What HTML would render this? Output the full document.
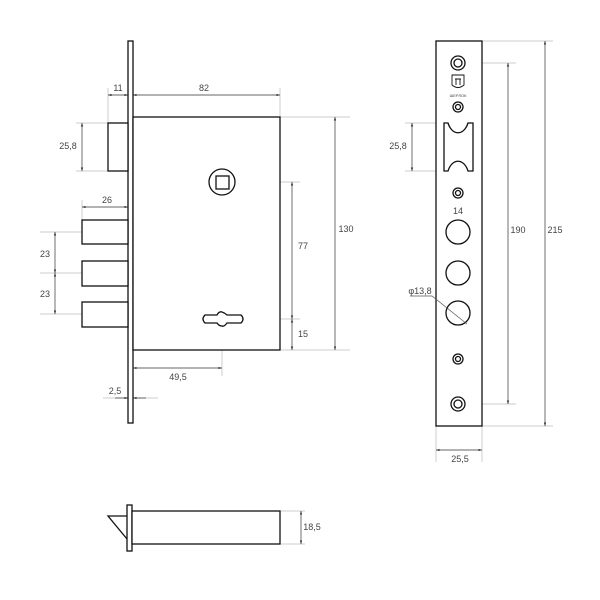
<!DOCTYPE html>
<html><head><style>body{margin:0;background:#fff}svg{display:block}text{font-family:"Liberation Sans",sans-serif;font-size:9px;fill:#444}</style></head>
<body>
<svg width="600" height="600" viewBox="0 0 600 600" xmlns="http://www.w3.org/2000/svg">
<defs><marker id="a" viewBox="0 0 6 6" refX="6" refY="3" markerWidth="5" markerHeight="5" orient="auto-start-reverse"><path d="M0,1 L6,3 L0,5z" fill="#333"/></marker></defs>
<g fill="none" stroke="#bbb" stroke-width="0.7">
<line x1="108" y1="88" x2="108" y2="123"/><line x1="133" y1="88" x2="133" y2="117"/><line x1="280" y1="88" x2="280" y2="117"/>
<line x1="76" y1="123" x2="108" y2="123"/><line x1="76" y1="171" x2="108" y2="171"/>
<line x1="82" y1="200" x2="82" y2="220"/>
<line x1="40" y1="232" x2="120" y2="232"/><line x1="40" y1="273" x2="120" y2="273"/><line x1="40" y1="314" x2="120" y2="314"/>
<line x1="280" y1="117" x2="350" y2="117"/><line x1="280" y1="350" x2="350" y2="350"/>
<line x1="190" y1="182" x2="300" y2="182"/><line x1="190" y1="319" x2="300" y2="319"/>
<line x1="222" y1="307" x2="222" y2="376"/>
<line x1="103" y1="398" x2="158" y2="398"/>
<line x1="482" y1="41" x2="553" y2="41"/><line x1="482" y1="426" x2="553" y2="426"/>
<line x1="450" y1="63" x2="516" y2="63"/><line x1="450" y1="404" x2="516" y2="404"/>
<line x1="405" y1="123" x2="476" y2="123"/><line x1="405" y1="171" x2="476" y2="171"/>
<line x1="444" y1="171" x2="444" y2="210"/><line x1="473" y1="171" x2="473" y2="210"/>
<line x1="436" y1="426" x2="436" y2="462"/><line x1="482" y1="426" x2="482" y2="462"/>
<line x1="280" y1="511" x2="305" y2="511"/><line x1="280" y1="544" x2="305" y2="544"/>
</g>
<g fill="none" stroke="#333" stroke-width="0.7" marker-start="url(#a)" marker-end="url(#a)">
<line x1="108" y1="95" x2="128" y2="95"/><line x1="133" y1="95" x2="280" y2="95"/>
<line x1="82" y1="123" x2="82" y2="171"/><line x1="82" y1="207" x2="128" y2="207"/>
<line x1="55" y1="232" x2="55" y2="273"/><line x1="55" y1="273" x2="55" y2="314"/>
<line x1="292" y1="182" x2="292" y2="319"/><line x1="292" y1="319" x2="292" y2="350"/>
<line x1="335" y1="117" x2="335" y2="350"/><line x1="133" y1="368" x2="222" y2="368"/>
<line x1="508" y1="63" x2="508" y2="404"/><line x1="545" y1="41" x2="545" y2="426"/>
<line x1="412" y1="123" x2="412" y2="171"/><line x1="444" y1="203" x2="473" y2="203"/>
<line x1="436" y1="450" x2="482" y2="450"/><line x1="301" y1="511" x2="301" y2="544"/>
</g>
<g fill="none" stroke="#333" stroke-width="0.7"><line x1="115" y1="398" x2="128" y2="398" marker-end="url(#a)"/><line x1="146" y1="398" x2="133" y2="398" marker-end="url(#a)"/></g>
<g fill="#fff" stroke="#111" stroke-width="1.3">
<rect x="128" y="41" width="5" height="382"/>
<rect x="133" y="117" width="147" height="233"/>
<rect x="108" y="123" width="20" height="48"/>
<rect x="82" y="220" width="46" height="24"/><rect x="82" y="261" width="46" height="25"/><rect x="82" y="302" width="46" height="25"/>
<circle cx="222" cy="182" r="13"/><rect x="216" y="176" width="13" height="13"/>
<path d="M205,315 L217,315 Q219,311 222,312 Q225,313 227,315 L241,315 Q245,319 241,323 L227,323 Q224,327 222,326 Q219,326 217,323 L205,323 Q201,319 205,315z"/>
<rect x="436" y="41" width="46" height="385"/>
<path d="M444,123 L448,123 C452,136 464,136 468,123 L473,123 L473,171 L468,171 C464,158 452,158 448,171 L444,171z"/>
<circle cx="458" cy="232" r="12"/><circle cx="458" cy="273" r="12"/><circle cx="458" cy="313" r="12"/>
<circle cx="458" cy="63" r="7"/><circle cx="458" cy="63" r="4"/>
<circle cx="458" cy="107" r="5"/><circle cx="458" cy="107" r="2.5"/>
<circle cx="458" cy="193" r="5"/><circle cx="458" cy="193" r="2.5"/>
<circle cx="458" cy="359" r="5"/><circle cx="458" cy="359" r="2.5"/>
<circle cx="458" cy="404" r="7"/><circle cx="458" cy="404" r="4"/>
<path d="M452,75 L464,75 L464,85 Q458,90 452,85z" stroke-width="0.9"/>
<path d="M455,79 L461,79 M456,79 L456,85 M460,79 L460,85" stroke-width="0.9"/>
<rect x="127" y="505" width="5" height="46"/>
<rect x="132" y="511" width="148" height="33"/>
<path d="M127,516 L108,516 L127,539" fill="none"/>
</g>
<polyline points="410,296 432,296 467,324" fill="none" stroke="#555" stroke-width="0.7"/>
<text x="458" y="97" text-anchor="middle" style="font-size:4px">ШЕРЛОК</text>
<text x="118" y="91" text-anchor="middle">11</text><text x="204" y="91" text-anchor="middle">82</text>
<text x="68" y="149" text-anchor="middle">25,8</text><text x="107" y="203" text-anchor="middle">26</text>
<text x="45" y="257" text-anchor="middle">23</text><text x="45" y="297" text-anchor="middle">23</text>
<text x="303" y="249" text-anchor="middle">77</text><text x="303" y="337" text-anchor="middle">15</text>
<text x="346" y="232" text-anchor="middle">130</text><text x="178" y="380" text-anchor="middle">49,5</text>
<text x="115" y="394" text-anchor="middle">2,5</text>
<text x="398" y="149" text-anchor="middle">25,8</text><text x="458" y="214" text-anchor="middle">14</text>
<text x="518" y="233" text-anchor="middle">190</text><text x="555" y="233" text-anchor="middle">215</text>
<text x="420" y="294" text-anchor="middle">φ13,8</text><text x="460" y="462" text-anchor="middle">25,5</text>
<text x="312" y="530" text-anchor="middle">18,5</text>
</svg>
</body></html>
